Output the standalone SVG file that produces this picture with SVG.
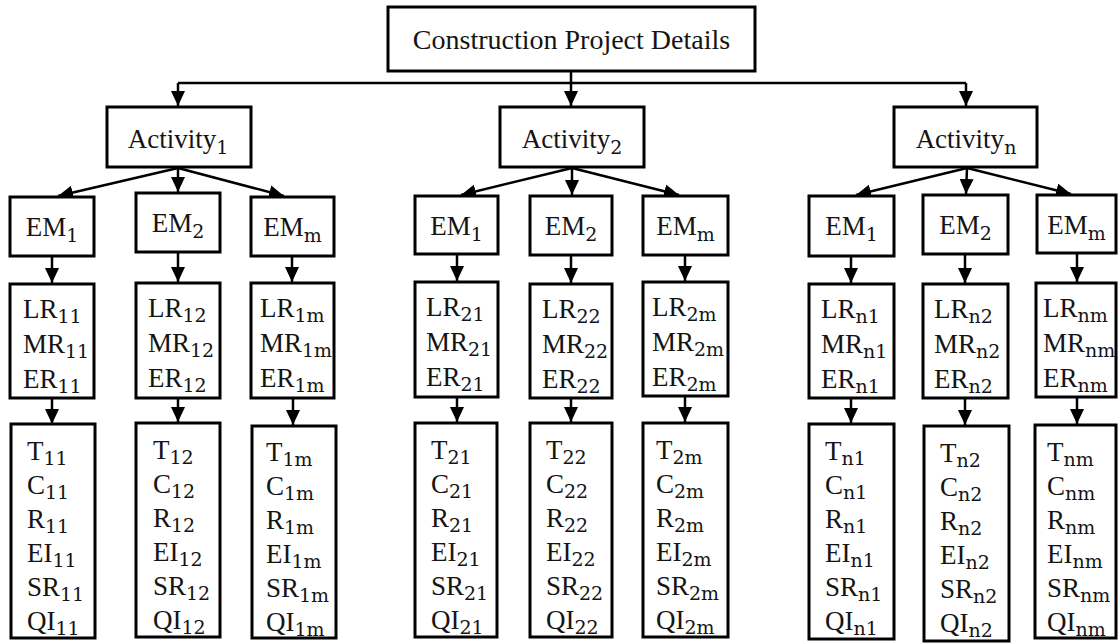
<svg xmlns="http://www.w3.org/2000/svg" width="1118" height="643" viewBox="0 0 1118 643">
<style>
rect{fill:#fff;stroke:#000;stroke-width:3}
.c line,.c path{stroke:#000;stroke-width:2.5;fill:none}
.c line{marker-end:url(#ah)}
text{font-family:"Liberation Serif","Times New Roman",serif;font-size:27px;fill:#141414}
tspan.s{font-family:"DejaVu Serif",serif;font-size:19px}
.m{text-anchor:middle}
.top{font-size:28px}
</style>
<defs>
<marker id="ah" markerUnits="userSpaceOnUse" markerWidth="15" markerHeight="14" refX="15" refY="7" orient="auto"><path d="M0,0 L15,7 L0,14 z" fill="#000"/></marker>
</defs>
<rect width="1118" height="643" style="stroke:none;fill:#fff"/>
<g class="c" id="connectors">
<path d="M178,83 H966"/>
<line x1="571" y1="71" x2="571" y2="106"/>
<line x1="178" y1="83" x2="178" y2="106"/>
<line x1="966" y1="83" x2="966" y2="106"/>
<line x1="178" y1="168" x2="58" y2="196"/>
<line x1="178" y1="168" x2="178" y2="192"/>
<line x1="178" y1="168" x2="284" y2="196"/>
<line x1="572" y1="168" x2="461" y2="195"/>
<line x1="572" y1="168" x2="572" y2="195"/>
<line x1="572" y1="168" x2="679" y2="195"/>
<line x1="967" y1="168" x2="856" y2="195"/>
<line x1="967" y1="168" x2="966" y2="194"/>
<line x1="967" y1="168" x2="1071" y2="194"/>
<line x1="52" y1="256" x2="52" y2="283"/>
<line x1="178" y1="252" x2="178" y2="282"/>
<line x1="292" y1="256" x2="292" y2="282"/>
<line x1="457" y1="254" x2="457" y2="281"/>
<line x1="571" y1="254" x2="571" y2="283"/>
<line x1="685" y1="255" x2="685" y2="281"/>
<line x1="851" y1="256" x2="851" y2="283"/>
<line x1="965" y1="254" x2="965" y2="283"/>
<line x1="1077" y1="253" x2="1077" y2="282"/>
<line x1="52" y1="398" x2="52" y2="424"/>
<line x1="178" y1="398" x2="178" y2="422"/>
<line x1="293" y1="398" x2="293" y2="425"/>
<line x1="457" y1="397" x2="457" y2="422"/>
<line x1="571" y1="398" x2="571" y2="422"/>
<line x1="685" y1="396" x2="685" y2="422"/>
<line x1="851" y1="398" x2="851" y2="423"/>
<line x1="965" y1="398" x2="965" y2="425"/>
<line x1="1077" y1="397" x2="1077" y2="424"/>
</g>
<g id="root"><rect x="388" y="7" width="367" height="64"/><text class="m top" x="571.5" y="49">Construction Project Details</text></g>
<g id="act1"><rect x="107" y="107" width="144" height="60"/><text class="m" x="178" y="148">Activity<tspan class="s" dy="6">1</tspan></text></g>
<g id="act2"><rect x="500" y="107" width="144" height="60"/><text class="m" x="572" y="148">Activity<tspan class="s" dy="6">2</tspan></text></g>
<g id="actn"><rect x="894" y="107" width="143" height="60"/><text class="m" x="966" y="148">Activity<tspan class="s" dy="6">n</tspan></text></g>

<g id="em11"><rect x="10" y="197" width="84" height="59"/><text class="m" x="52" y="236">EM<tspan class="s" dy="6">1</tspan></text></g>
<g id="em12"><rect x="136" y="193" width="84" height="59"/><text class="m" x="178" y="232">EM<tspan class="s" dy="6">2</tspan></text></g>
<g id="em1m"><rect x="251" y="197" width="83" height="59"/><text class="m" x="292.5" y="236">EM<tspan class="s" dy="6">m</tspan></text></g>
<g id="em21"><rect x="415" y="196" width="83" height="58"/><text class="m" x="456.5" y="235">EM<tspan class="s" dy="6">1</tspan></text></g>
<g id="em22"><rect x="530" y="196" width="82" height="59"/><text class="m" x="571" y="235">EM<tspan class="s" dy="6">2</tspan></text></g>
<g id="em2m"><rect x="643" y="196" width="85" height="59"/><text class="m" x="685.5" y="235">EM<tspan class="s" dy="6">m</tspan></text></g>
<g id="emn1"><rect x="809" y="196" width="85" height="60"/><text class="m" x="851.5" y="235">EM<tspan class="s" dy="6">1</tspan></text></g>
<g id="emn2"><rect x="923" y="195" width="85" height="59"/><text class="m" x="965.5" y="234">EM<tspan class="s" dy="6">2</tspan></text></g>
<g id="emnm"><rect x="1037" y="195" width="79" height="58"/><text class="m" x="1076.5" y="234">EM<tspan class="s" dy="6">m</tspan></text></g>

<g id="lr11"><rect x="10" y="284" width="84" height="114"/>
<text x="23" y="318">LR<tspan class="s" dy="5">11</tspan></text><text x="23" y="353">MR<tspan class="s" dy="5">11</tspan></text><text x="23" y="388">ER<tspan class="s" dy="5">11</tspan></text></g>
<g id="lr12"><rect x="136" y="283" width="84" height="115"/>
<text x="148" y="317">LR<tspan class="s" dy="5">12</tspan></text><text x="148" y="352">MR<tspan class="s" dy="5">12</tspan></text><text x="148" y="387">ER<tspan class="s" dy="5">12</tspan></text></g>
<g id="lr1m"><rect x="251" y="283" width="83" height="115"/>
<text x="260" y="317">LR<tspan class="s" dy="5">1m</tspan></text><text x="260" y="352">MR<tspan class="s" dy="5">1m</tspan></text><text x="260" y="387">ER<tspan class="s" dy="5">1m</tspan></text></g>
<g id="lr21"><rect x="415" y="282" width="83" height="115"/>
<text x="426" y="316">LR<tspan class="s" dy="5">21</tspan></text><text x="426" y="351">MR<tspan class="s" dy="5">21</tspan></text><text x="426" y="386">ER<tspan class="s" dy="5">21</tspan></text></g>
<g id="lr22"><rect x="530" y="284" width="82" height="114"/>
<text x="542" y="318">LR<tspan class="s" dy="5">22</tspan></text><text x="542" y="353">MR<tspan class="s" dy="5">22</tspan></text><text x="542" y="388">ER<tspan class="s" dy="5">22</tspan></text></g>
<g id="lr2m"><rect x="643" y="282" width="85" height="114"/>
<text x="652" y="316">LR<tspan class="s" dy="5">2m</tspan></text><text x="652" y="351">MR<tspan class="s" dy="5">2m</tspan></text><text x="652" y="386">ER<tspan class="s" dy="5">2m</tspan></text></g>
<g id="lrn1"><rect x="809" y="284" width="85" height="114"/>
<text x="821" y="318">LR<tspan class="s" dy="5">n1</tspan></text><text x="821" y="353">MR<tspan class="s" dy="5">n1</tspan></text><text x="821" y="388">ER<tspan class="s" dy="5">n1</tspan></text></g>
<g id="lrn2"><rect x="923" y="284" width="85" height="114"/>
<text x="934" y="318">LR<tspan class="s" dy="5">n2</tspan></text><text x="934" y="353">MR<tspan class="s" dy="5">n2</tspan></text><text x="934" y="388">ER<tspan class="s" dy="5">n2</tspan></text></g>
<g id="lrnm"><rect x="1036" y="283" width="80" height="114"/>
<text x="1043" y="317">LR<tspan class="s" dy="5">nm</tspan></text><text x="1043" y="352">MR<tspan class="s" dy="5">nm</tspan></text><text x="1043" y="387">ER<tspan class="s" dy="5">nm</tspan></text></g>

<g id="t11"><rect x="11" y="424" width="84" height="214"/>
<text x="27" y="460">T<tspan class="s" dy="5">11</tspan></text><text x="27" y="494">C<tspan class="s" dy="5">11</tspan></text><text x="27" y="528">R<tspan class="s" dy="5">11</tspan></text><text x="27" y="562">EI<tspan class="s" dy="5">11</tspan></text><text x="27" y="596">SR<tspan class="s" dy="5">11</tspan></text><text x="27" y="630">QI<tspan class="s" dy="5">11</tspan></text></g>
<g id="t12"><rect x="136" y="423" width="84" height="214"/>
<text x="153" y="459">T<tspan class="s" dy="5">12</tspan></text><text x="153" y="493">C<tspan class="s" dy="5">12</tspan></text><text x="153" y="527">R<tspan class="s" dy="5">12</tspan></text><text x="153" y="561">EI<tspan class="s" dy="5">12</tspan></text><text x="153" y="595">SR<tspan class="s" dy="5">12</tspan></text><text x="153" y="629">QI<tspan class="s" dy="5">12</tspan></text></g>
<g id="t1m"><rect x="252" y="426" width="84" height="212"/>
<text x="266" y="461">T<tspan class="s" dy="5">1m</tspan></text><text x="266" y="495">C<tspan class="s" dy="5">1m</tspan></text><text x="266" y="529">R<tspan class="s" dy="5">1m</tspan></text><text x="266" y="563">EI<tspan class="s" dy="5">1m</tspan></text><text x="266" y="597">SR<tspan class="s" dy="5">1m</tspan></text><text x="266" y="631">QI<tspan class="s" dy="5">1m</tspan></text></g>
<g id="t21"><rect x="415" y="423" width="82" height="214"/>
<text x="431" y="459">T<tspan class="s" dy="5">21</tspan></text><text x="431" y="493">C<tspan class="s" dy="5">21</tspan></text><text x="431" y="527">R<tspan class="s" dy="5">21</tspan></text><text x="431" y="561">EI<tspan class="s" dy="5">21</tspan></text><text x="431" y="595">SR<tspan class="s" dy="5">21</tspan></text><text x="431" y="629">QI<tspan class="s" dy="5">21</tspan></text></g>
<g id="t22"><rect x="530" y="423" width="82" height="214"/>
<text x="546" y="459">T<tspan class="s" dy="5">22</tspan></text><text x="546" y="493">C<tspan class="s" dy="5">22</tspan></text><text x="546" y="527">R<tspan class="s" dy="5">22</tspan></text><text x="546" y="561">EI<tspan class="s" dy="5">22</tspan></text><text x="546" y="595">SR<tspan class="s" dy="5">22</tspan></text><text x="546" y="629">QI<tspan class="s" dy="5">22</tspan></text></g>
<g id="t2m"><rect x="643" y="423" width="85" height="214"/>
<text x="656" y="459">T<tspan class="s" dy="5">2m</tspan></text><text x="656" y="493">C<tspan class="s" dy="5">2m</tspan></text><text x="656" y="527">R<tspan class="s" dy="5">2m</tspan></text><text x="656" y="561">EI<tspan class="s" dy="5">2m</tspan></text><text x="656" y="595">SR<tspan class="s" dy="5">2m</tspan></text><text x="656" y="629">QI<tspan class="s" dy="5">2m</tspan></text></g>
<g id="tn1"><rect x="809" y="424" width="85" height="215"/>
<text x="825" y="460">T<tspan class="s" dy="5">n1</tspan></text><text x="825" y="494">C<tspan class="s" dy="5">n1</tspan></text><text x="825" y="528">R<tspan class="s" dy="5">n1</tspan></text><text x="825" y="562">EI<tspan class="s" dy="5">n1</tspan></text><text x="825" y="596">SR<tspan class="s" dy="5">n1</tspan></text><text x="825" y="630">QI<tspan class="s" dy="5">n1</tspan></text></g>
<g id="tn2"><rect x="924" y="426" width="85" height="215"/>
<text x="940" y="462">T<tspan class="s" dy="5">n2</tspan></text><text x="940" y="496">C<tspan class="s" dy="5">n2</tspan></text><text x="940" y="530">R<tspan class="s" dy="5">n2</tspan></text><text x="940" y="564">EI<tspan class="s" dy="5">n2</tspan></text><text x="940" y="598">SR<tspan class="s" dy="5">n2</tspan></text><text x="940" y="632">QI<tspan class="s" dy="5">n2</tspan></text></g>
<g id="tnm"><rect x="1035" y="425" width="81" height="213"/>
<text x="1047" y="461">T<tspan class="s" dy="5">nm</tspan></text><text x="1047" y="495">C<tspan class="s" dy="5">nm</tspan></text><text x="1047" y="529">R<tspan class="s" dy="5">nm</tspan></text><text x="1047" y="563">EI<tspan class="s" dy="5">nm</tspan></text><text x="1047" y="597">SR<tspan class="s" dy="5">nm</tspan></text><text x="1047" y="631">QI<tspan class="s" dy="5">nm</tspan></text></g>
</svg>
